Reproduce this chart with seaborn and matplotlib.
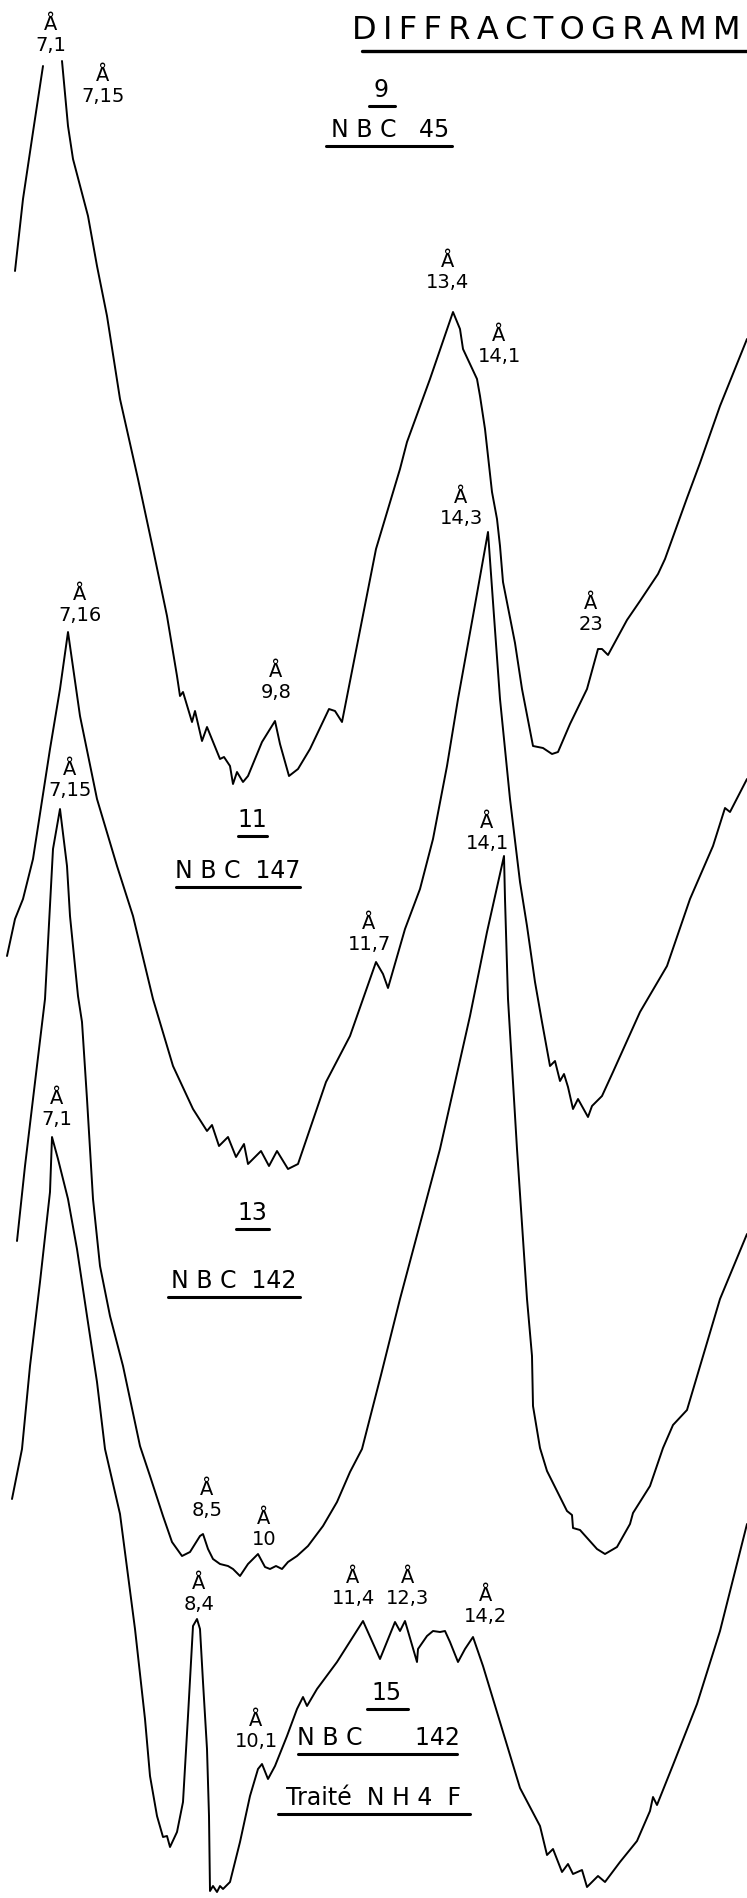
import pandas as pd
import seaborn as sns
import matplotlib.pyplot as plt

sns.set_style('white')
plt.rcParams['font.family'] = ['DejaVu Sans']

# traces (pixel units, y pointing down)
nbc45_a_x = [15, 23, 33, 43]
nbc45_a_y = [272, 200, 133, 67]
nbc45_b_x = [62, 68, 73, 88, 97, 107, 120, 138, 153, 167, 177, 180, 183, 192, 195, 202, 207,
             220, 224, 230, 233, 237, 243, 248, 262, 275, 280, 289, 298, 310, 329, 335, 342,
             353, 376, 400, 407, 430, 453, 460, 463, 477, 480, 485, 492, 497, 500, 503, 515,
             522, 533, 543, 552, 558, 570, 587, 598, 602, 608, 627, 640, 658, 665, 687, 700,
             720, 747]
nbc45_b_y = [62, 127, 160, 217, 267, 317, 400, 480, 550, 617, 677, 697, 693, 723, 712, 742, 728,
             760, 758, 767, 785, 773, 783, 777, 743, 722, 745, 777, 770, 750, 710, 712, 723,
             667, 550, 470, 443, 380, 313, 330, 350, 380, 397, 430, 493, 520, 547, 583, 644,
             690, 747, 749, 755, 753, 725, 690, 650, 650, 656, 621, 602, 575, 560, 499, 464,
             407, 340]

nbc147_x = [7, 15, 23, 33, 50, 60, 68, 80, 97, 117, 133, 153, 173, 193, 207, 212, 219, 228,
            236, 244, 248, 261, 269, 277, 288, 298, 326, 350, 376, 383, 388, 405, 420, 433,
            447, 458, 473, 488, 494, 500, 510, 520, 527, 535, 542, 550, 555, 560, 564, 568,
            573, 578, 588, 592, 602, 613, 640, 667, 690, 713, 725, 730, 747]
nbc147_y = [957, 920, 900, 860, 750, 690, 633, 717, 800, 867, 917, 1000, 1067, 1110, 1132,
            1126, 1147, 1138, 1158, 1145, 1165, 1152, 1167, 1152, 1170, 1165, 1083, 1037, 963,
            975, 989, 930, 890, 840, 767, 700, 617, 533, 617, 700, 800, 883, 927, 983, 1023,
            1067, 1062, 1082, 1075, 1088, 1110, 1100, 1118, 1107, 1097, 1073, 1013, 967, 900,
            847, 809, 813, 780]

nbc142_x = [17, 25, 33, 45, 53, 60, 67, 70, 78, 82, 87, 93, 100, 110, 123, 140, 150, 163, 172,
            182, 190, 200, 203, 208, 213, 220, 228, 233, 240, 248, 258, 265, 270, 276, 282,
            288, 297, 308, 323, 337, 350, 362, 381, 400, 420, 440, 470, 487, 504, 505, 508,
            517, 527, 532, 533, 540, 547, 567, 572, 573, 580, 597, 605, 617, 630, 633, 650,
            663, 673, 687, 720, 747]
nbc142_y = [1242, 1167, 1100, 1000, 850, 810, 867, 917, 997, 1023, 1100, 1200, 1267, 1317,
            1367, 1447, 1477, 1517, 1543, 1557, 1553, 1537, 1535, 1550, 1560, 1565, 1567, 1570,
            1577, 1565, 1555, 1568, 1570, 1567, 1570, 1563, 1557, 1547, 1527, 1503, 1473, 1450,
            1376, 1300, 1225, 1150, 1017, 933, 857, 900, 1000, 1150, 1300, 1357, 1407, 1449,
            1472, 1512, 1516, 1529, 1531, 1550, 1555, 1548, 1525, 1514, 1487, 1449, 1426, 1411,
            1300, 1235]

nh4f_x = [12, 22, 30, 40, 50, 52, 58, 68, 77, 87, 97, 105, 120, 135, 145, 150, 157, 163, 167,
          170, 177, 183, 188, 193, 197, 200, 203, 207, 209, 210, 213, 217, 220, 223, 230, 240,
          250, 258, 262, 268, 275, 287, 297, 303, 307, 317, 337, 363, 380, 395, 400, 405, 417,
          418, 427, 433, 440, 445, 450, 458, 465, 473, 483, 500, 520, 540, 547, 553, 562, 568,
          573, 582, 587, 598, 605, 620, 637, 650, 653, 657, 673, 697, 720, 747]
nh4f_y = [1500, 1450, 1367, 1283, 1193, 1138, 1160, 1200, 1250, 1317, 1383, 1450, 1515, 1630,
          1720, 1777, 1817, 1838, 1837, 1848, 1833, 1803, 1717, 1627, 1620, 1630, 1683, 1750,
          1817, 1892, 1887, 1893, 1887, 1890, 1883, 1843, 1797, 1770, 1765, 1780, 1767, 1737,
          1710, 1698, 1707, 1690, 1663, 1622, 1660, 1623, 1632, 1622, 1663, 1650, 1637, 1632,
          1633, 1632, 1643, 1663, 1650, 1638, 1667, 1723, 1789, 1827, 1856, 1850, 1873, 1865,
          1875, 1871, 1888, 1877, 1883, 1863, 1842, 1812, 1798, 1806, 1766, 1705, 1632, 1525]

# peak labels (Å spacing)
peak_labels = ['7,1', '7,15', '13,4', '14,1', '14,3', '9,8', '23',
               '7,16', '11,7', '14,1',
               '7,15', '8,5', '10',
               '7,1', '8,4', '11,4', '12,3', '14,2', '10,1']
peak_label_pos = [(51, 35), (103, 86), (448, 272), (499, 346), (461, 508), (276, 682), (591, 614),
                  (80, 605), (369, 934), (487, 833),
                  (70, 780), (207, 1500), (264, 1529),
                  (57, 1109), (199, 1594), (353, 1588), (408, 1588), (486, 1606), (256, 1731)]

parts = []
for name, xs, ys in [('nbc45_a', nbc45_a_x, nbc45_a_y), ('nbc45_b', nbc45_b_x, nbc45_b_y),
                     ('nbc147', nbc147_x, nbc147_y), ('nbc142', nbc142_x, nbc142_y),
                     ('nh4f', nh4f_x, nh4f_y)]:
    parts.append(pd.DataFrame({'x': xs, 'y': ys, 'trace': name}))
data = pd.concat(parts, ignore_index=True)

fig = plt.figure(figsize=(7.47, 18.99), dpi=100)
ax = fig.add_axes([0, 0, 1, 1])
sns.lineplot(data=data, x='x', y='y', units='trace', estimator=None, sort=False,
             color='black', linewidth=1.4, ax=ax)
ax.set_xlim(0, 747)
ax.set_ylim(1899, 0)
ax.axis('off')

narrow = ['Liberation Sans Narrow', 'DejaVu Sans']
for lab, (px, py) in zip(peak_labels, peak_label_pos):
    ax.text(px, py, 'Å\n' + lab, ha='center', va='center', fontsize=14,
            family=narrow, linespacing=1.15, color='black')

# sample names, underlined
titles = [('9', 381, 90, 369, 395), ('N B C   45', 390, 130, 326, 452),
          ('11', 252, 820, 238, 267), ('N B C  147', 238, 871, 176, 300),
          ('13', 252, 1213, 236, 269), ('N B C  142', 234, 1281, 168, 300),
          ('15', 387, 1693, 367, 408), ('N B C       142', 378, 1738, 298, 457),
          ('Traité  N H 4  F', 373, 1798, 278, 470)]
for t, tx, ty, x0, x1 in titles:
    ax.text(tx, ty, t, ha='center', va='center', fontsize=17, color='black')
    ax.plot([x0, x1], [ty + 17, ty + 17], color='black', linewidth=2.2)

title = '\u2009'.join('DIFFRACTOGRAMM')
ax.text(352, 30, title, ha='left', va='center', fontsize=23, color='black')
ax.plot([362, 747], [52, 52], color='black', linewidth=2.4)

fig.savefig('out.png', dpi=100, facecolor='white')
